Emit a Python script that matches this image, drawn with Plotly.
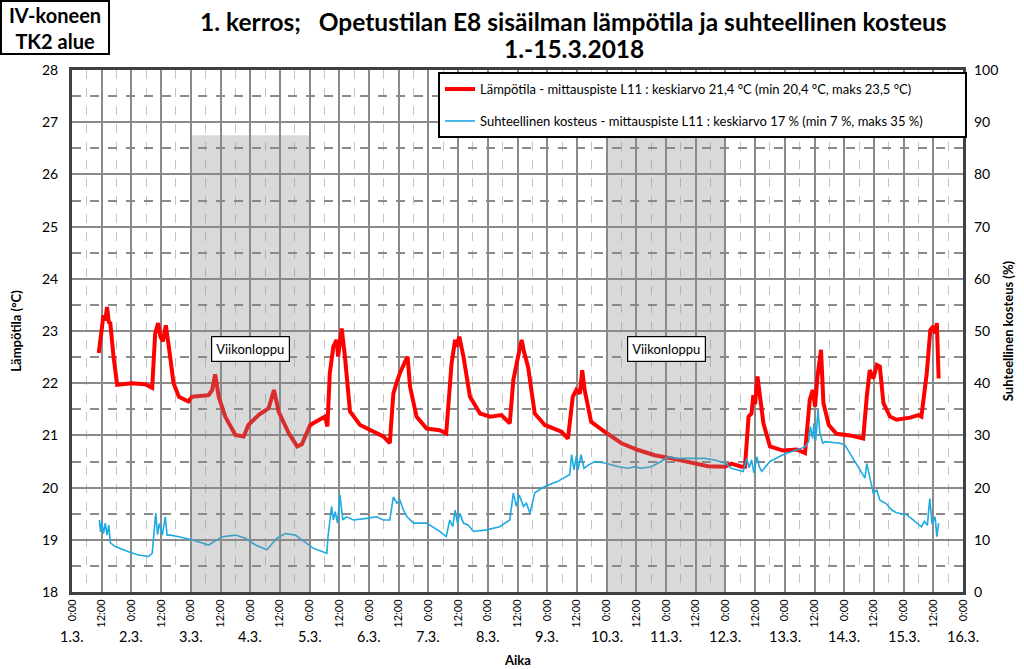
import plotly.graph_objects as go

# ---- data (days since 1.3. 0:00) ----
temp_day = [0.45, 0.505, 0.53, 0.56, 0.59, 0.62, 0.645, 0.70, 0.76, 1.01, 1.23, 1.35, 1.40, 1.45, 1.49,
            1.53, 1.58, 1.63, 1.71, 1.80, 1.96, 2.02, 2.30, 2.36, 2.41, 2.47, 2.58, 2.75, 2.89, 2.97,
            3.14, 3.31, 3.40, 3.48, 3.65, 3.79, 3.87, 4.01, 4.26, 4.30, 4.34, 4.40, 4.455, 4.48, 4.54,
            4.595, 4.68, 4.85, 5.08, 5.24, 5.35, 5.41, 5.47, 5.52, 5.61, 5.65, 5.69, 5.80, 5.97, 6.19,
            6.30, 6.39, 6.45, 6.47, 6.52, 6.59, 6.70, 6.87, 7.04, 7.23, 7.37, 7.43, 7.51, 7.57, 7.61,
            7.68, 7.79, 7.96, 8.24, 8.35, 8.43, 8.49, 8.55, 8.59, 8.63, 8.74, 8.97, 9.25, 9.53, 9.81,
            10.09, 10.37, 10.71, 10.99, 11.10, 11.27, 11.33, 11.39, 11.44, 11.47, 11.50, 11.54, 11.58,
            11.64, 11.75, 11.97, 12.20, 12.34, 12.42, 12.47, 12.51, 12.55, 12.61, 12.65, 12.74, 12.87,
            13.10, 13.32, 13.38, 13.43, 13.49, 13.55, 13.60, 13.66, 13.77, 13.88, 14.11, 14.25, 14.30,
            14.39, 14.45, 14.50, 14.53, 14.56, 14.59]
temp_val = [22.58, 23.15, 23.30, 23.20, 23.46, 23.17, 23.15, 22.50, 21.97, 22.00, 21.98, 21.91, 22.95, 23.15, 22.89,
            22.80, 23.11, 22.70, 22.00, 21.74, 21.65, 21.74, 21.77, 21.87, 22.17, 21.74, 21.36, 21.01, 20.98, 21.20,
            21.39, 21.52, 21.87, 21.45, 21.04, 20.79, 20.83, 21.20, 21.36, 21.17, 22.19, 22.70, 22.83, 22.51, 23.05,
            22.51, 21.46, 21.20, 21.07, 20.98, 20.85, 21.80, 22.03, 22.19, 22.42, 22.51, 21.94, 21.36, 21.13, 21.10,
            21.04, 22.38, 22.83, 22.70, 22.89, 22.51, 21.74, 21.42, 21.36, 21.39, 21.23, 22.06, 22.51, 22.83, 22.60,
            22.30, 21.42, 21.20, 21.07, 20.94, 21.74, 21.87, 21.80, 22.25, 21.87, 21.26, 21.07, 20.85, 20.72, 20.62,
            20.56, 20.49, 20.41, 20.40, 20.46, 20.40, 20.40, 21.36, 21.42, 21.77, 21.60, 22.13, 21.80,
            21.23, 20.79, 20.71, 20.73, 20.66, 21.68, 21.87, 21.55, 22.13, 22.64, 21.62, 21.20, 21.03,
            21.00, 20.94, 21.74, 22.25, 22.09, 22.35, 22.32, 21.62, 21.36, 21.30, 21.34, 21.39, 21.36,
            22.19, 23.02, 23.09, 22.95, 23.15, 22.09]

rh_day = [0.46, 0.48, 0.50, 0.53, 0.56, 0.59, 0.62, 0.645, 0.73, 0.95, 1.12, 1.29, 1.35, 1.375, 1.41,
          1.44, 1.47, 1.52, 1.57, 1.60, 1.655, 1.80, 2.02, 2.30, 2.53, 2.75, 2.92, 3.09, 3.28, 3.45,
          3.59, 3.76, 3.87, 4.06, 4.29, 4.31, 4.37, 4.40, 4.43, 4.47, 4.51, 4.56, 4.62, 4.74, 4.96,
          5.13, 5.24, 5.35, 5.41, 5.47, 5.52, 5.58, 5.64, 5.75, 5.97, 6.19, 6.30, 6.36, 6.41, 6.45,
          6.49, 6.53, 6.59, 6.67, 6.76, 6.98, 7.20, 7.37, 7.43, 7.48, 7.53, 7.60, 7.65, 7.71, 7.79,
          7.96, 8.18, 8.38, 8.41, 8.45, 8.49, 8.52, 8.57, 8.62, 8.69, 8.80, 8.97, 9.20, 9.36, 9.47,
          9.58, 9.75, 9.92, 10.03, 10.20, 10.37, 10.65, 10.82, 10.99, 11.10, 11.21, 11.30, 11.36, 11.40,
          11.44, 11.48, 11.53, 11.57, 11.61, 11.75, 11.97, 12.20, 12.34, 12.40, 12.43, 12.47, 12.49,
          12.52, 12.56, 12.59, 12.64, 12.68, 12.76, 12.93, 13.01, 13.15, 13.27, 13.35, 13.38, 13.42,
          13.46, 13.49, 13.55, 13.60, 13.71, 13.80, 13.88, 14.05, 14.16, 14.30, 14.35, 14.40, 14.44,
          14.48, 14.53, 14.56, 14.59]
rh_val = [13.8, 11.5, 13.5, 11.2, 13.2, 10.9, 12.8, 9.4, 8.7, 7.7, 7.1, 6.8, 7.4, 10.6, 15.1,
          11.0, 13.1, 10.9, 14.4, 10.9, 10.9, 10.6, 10.0, 9.0, 10.6, 10.9, 10.3, 9.0, 8.1, 10.3,
          11.2, 10.9, 10.0, 8.4, 7.4, 10.6, 16.4, 13.8, 15.4, 13.2, 18.6, 13.8, 14.4, 13.8, 14.1,
          14.4, 13.8, 13.8, 18.2, 17.0, 17.6, 15.7, 14.4, 13.2, 13.2, 11.6, 10.6, 13.8, 12.5, 15.7,
          13.2, 15.1, 13.2, 12.8, 11.6, 11.9, 12.5, 13.8, 19.0, 16.4, 18.6, 16.4, 17.0, 15.1, 19.0,
          20.2, 21.2, 22.5, 26.3, 23.4, 26.0, 23.4, 26.3, 23.7, 24.3, 25.0, 24.7, 24.0, 23.7, 24.0,
          23.7, 24.0, 25.0, 25.9, 25.6, 25.6, 25.6, 25.3, 24.7, 23.7, 23.4, 23.1, 25.6, 23.8,
          25.3, 22.8, 25.9, 24.0, 23.1, 25.0, 26.3, 27.3, 27.8, 28.8, 31.7, 29.4, 32.3,
          29.0, 34.9, 30.4, 28.5, 28.8, 28.7, 28.5, 28.2, 25.6, 23.4, 21.8, 24.6, 22.5,
          20.8, 18.9, 19.5, 17.6, 16.9, 15.7, 15.2, 14.8, 13.8, 12.5, 13.5, 12.8, 17.9,
          13.0, 14.4, 10.6, 13.2]

weekend_start = [2, 9]
weekend_end = [4, 11]
weekend_top = 26.75
weekend_label = ["Viikonloppu", "Viikonloppu"]

date_labels = ["1.3.", "2.3.", "3.3.", "4.3.", "5.3.", "6.3.", "7.3.", "8.3.", "9.3.", "10.3.",
               "11.3.", "12.3.", "13.3.", "14.3.", "15.3.", "16.3."]
tick_pos = [i * 0.5 for i in range(31)]
tick_text = ["0:00" if i % 2 == 0 else "12:00" for i in range(31)]

FONT = "Lato, 'Open Sans', sans-serif"
PAD = "\u00a0" * 11

fig = go.Figure()
fig.add_trace(go.Scatter(
    x=temp_day, y=temp_val, mode="lines", legendgroup="a",
    name="Lämpötila - mittauspiste L11 : keskiarvo 21,4 °C (min 20,4 °C, maks 23,5 °C)" + PAD,
    line=dict(color="#FF0000", width=4)))
fig.add_trace(go.Scatter(
    x=rh_day, y=rh_val, mode="lines", yaxis="y2", legendgroup="b",
    name="Suhteellinen kosteus - mittauspiste L11 : keskiarvo 17 % (min 7 %, maks 35 %)" + PAD,
    line=dict(color="#1EAAE2", width=1.6)))

shapes = []
for s, e in zip(weekend_start, weekend_end):
    shapes.append(dict(type="rect", xref="x", yref="y", x0=s, x1=e, y0=18, y1=weekend_top,
                       fillcolor="rgba(140,140,140,0.33)", line=dict(width=0), layer="above"))

annotations = []
for s, e, lab in zip(weekend_start, weekend_end, weekend_label):
    annotations.append(dict(x=(s + e) / 2, y=22.66, xref="x", yref="y", text=lab, showarrow=False,
                            font=dict(family=FONT, size=13, color="black"), bgcolor="white",
                            bordercolor="black", borderwidth=1.2, borderpad=4))
for i, d in enumerate(date_labels):
    annotations.append(dict(x=i, y=-0.086, xref="x", yref="paper", text=d, showarrow=False,
                            font=dict(family=FONT, size=14.5, color="black"), yanchor="middle"))
annotations.append(dict(x=0.5, y=-0.13, xref="paper", yref="paper", text="<b>Aika</b>", showarrow=False,
                        font=dict(family=FONT, size=13, color="black"), yanchor="middle"))
annotations.append(dict(x=0.563, y=1 + (70 - 21) / 522, xref="paper", yref="paper",
                        text="<b>1. kerros;\u00a0\u00a0\u00a0Opetustilan E8 sisäilman lämpötila ja suhteellinen kosteus</b>",
                        showarrow=False, font=dict(family=FONT, size=24.5, color="black"), yanchor="middle"))
annotations.append(dict(x=0.563, y=1 + (70 - 48) / 522, xref="paper", yref="paper",
                        text="<b>1.-15.3.2018</b>",
                        showarrow=False, font=dict(family=FONT, size=24.5, color="black"), yanchor="middle"))
annotations.append(dict(x=(0 - 72) / 891, y=1 + (70 - 0) / 522, xref="paper", yref="paper",
                        xanchor="left", yanchor="top", align="center", width=104, height=49,
                        text="<b>IV-koneen<br>TK2 alue</b>", showarrow=False,
                        font=dict(family=FONT, size=20, color="black"), bgcolor="white",
                        bordercolor="black", borderwidth=2, borderpad=1))

fig.update_layout(
    width=1024, height=669,
    margin=dict(l=72, r=61, t=70, b=77),
    paper_bgcolor="white", plot_bgcolor="white",
    font=dict(family=FONT, size=14, color="black"),
    showlegend=True,
    legend=dict(x=(438 - 72) / 891, y=0.996, xanchor="left", yanchor="top",
                bgcolor="white", bordercolor="black", borderwidth=2,
                font=dict(family=FONT, size=13, color="black"), tracegroupgap=12),
    shapes=shapes,
    annotations=annotations,
    xaxis=dict(range=[0, 15], tickvals=tick_pos, ticktext=tick_text, tickangle=-90,
               tickfont=dict(family=FONT, size=11, color="black"),
               showgrid=True, gridcolor="#8a8a8a", gridwidth=2,
               minor=dict(dtick=0.25, tick0=0, showgrid=True, gridcolor="#c4c4c4", griddash="dash", gridwidth=1),
               showline=True, linecolor="#404040", linewidth=3, mirror=True, zeroline=False, ticks=""),
    yaxis=dict(range=[18, 28], dtick=1, tick0=18, ticklabelstandoff=8,
               title=dict(text="<b>Lämpötila (°C)</b>", font=dict(family=FONT, size=13), standoff=18),
               tickfont=dict(family=FONT, size=14, color="black"),
               showgrid=True, gridcolor="#8a8a8a", gridwidth=2,
               minor=dict(dtick=0.5, tick0=18, showgrid=True, gridcolor="#8a8a8a", griddash="dash", gridwidth=1.5),
               showline=True, linecolor="#404040", linewidth=3, mirror=True, zeroline=False, ticks=""),
    yaxis2=dict(range=[0, 100], dtick=10, tick0=0, overlaying="y", side="right", ticklabelstandoff=10,
                title=dict(text="<b>Suhteellinen kosteus (%)</b>", font=dict(family=FONT, size=13), standoff=6),
                tickfont=dict(family=FONT, size=14, color="black"),
                showgrid=False, zeroline=False, ticks=""),
)

fig.write_html("out.html", config={"displayModeBar": False},
               post_script="document.body.style.margin='0';")
